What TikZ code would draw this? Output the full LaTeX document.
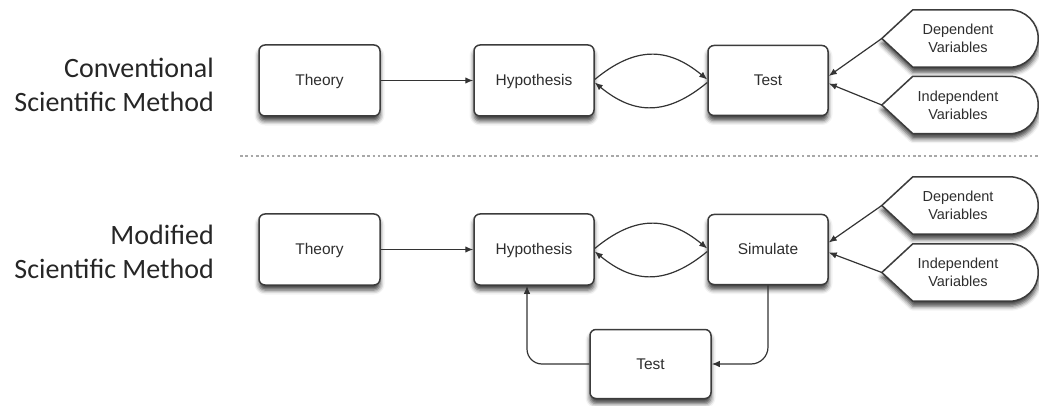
\documentclass[tikz,border=0pt]{standalone}
\usepackage{fontspec}
\setmainfont{Liberation Sans}
\newfontfamily\labelfont{Carlito}
\usetikzlibrary{arrows.meta,shadows.blur}

\definecolor{edgegray}{HTML}{3C3C3C}
\definecolor{linegray}{HTML}{333333}
\definecolor{textgray}{HTML}{2E2E2E}
\definecolor{dotgray}{HTML}{A8A8A8}

\tikzset{
  softshadow/.style={blur shadow={shadow xshift=0pt, shadow yshift=-5pt,
      shadow blur radius=4.5pt, shadow opacity=75}},
  stepbox/.style={draw=edgegray, line width=1.5pt, fill=white,
      rounded corners=6pt, minimum width=120pt, minimum height=70pt,
      inner sep=0pt, text height=10.5pt, text depth=0pt,
      font=\fontsize{15.5}{18}\selectfont, text=textgray, softshadow},
  varbox/.style={minimum width=156pt, minimum height=57pt, inner sep=0pt,
      align=center, font=\fontsize{14.5}{18}\selectfont, text=textgray},
  varline/.style={draw=edgegray, line width=1.5pt, fill=white, softshadow},
  flow/.style={draw=linegray, line width=1.2pt,
      -{Latex[length=8pt,width=6.5pt]}},
  methodlabel/.style={anchor=base east, inner sep=0pt, text=black!85,
      font=\labelfont\fontsize{28}{33}\selectfont},
}

% outline of an input shape: pointed on the left, rounded on the right
\newcommand{\varoutline}[1]{%
  \path[varline] (#1.west) -- ([xshift=31pt]#1.north west)
    [rounded corners=28.5pt] -- (#1.north east) -- (#1.south east)
    [sharp corners] -- ([xshift=31pt]#1.south west) -- cycle;}

\begin{document}
\begin{tikzpicture}[x=1pt, y=-1pt]
\useasboundingbox (0,0) rectangle (1039,406);

% ---------- conventional method ----------
\node[methodlabel] (convA) at (214,78) {Conventional};
\node[methodlabel] (convB) at (214,112) {Scientific Method};

\node[stepbox, minimum width=121pt, minimum height=71pt] (thA) at (319.5,80.5) {Theory};
\node[stepbox, minimum height=71pt] (hypA) at (534,80.5) {Hypothesis};
\node[stepbox] (tstA) at (768,80.5) {Test};

\node[varbox] (depA) at (960,38.5) {};
\node[varbox] (indA) at (960,105) {};
\varoutline{depA}
\varoutline{indA}
\node[varbox] at ([xshift=-2pt]depA.center) {Dependent\\Variables};
\node[varbox] at ([xshift=-2pt]indA.center) {Independent\\Variables};

\draw[flow] (thA.east) -- (hypA.west);
\draw[flow] ([yshift=1pt]hypA.east) .. controls +(40,-33) and +(-40,-33) .. ([yshift=1pt]tstA.west);
\draw[flow] ([yshift=-2pt]tstA.west) .. controls +(-40,33) and +(40,33) .. ([yshift=-2pt]hypA.east);
\draw[flow] (depA.west) -- ([yshift=4.5pt]tstA.east);
\draw[flow] (indA.west) -- ([yshift=-3pt]tstA.east);

% separator
\coordinate (sepL) at (240,156);
\coordinate (sepR) at (1039,156);
\draw[dotgray, line width=1.3pt, dash pattern=on 2.6pt off 2.7pt] (sepL) -- (sepR);

% ---------- modified method ----------
\node[methodlabel] (modA) at (214,245) {Modified};
\node[methodlabel] (modB) at (214,278) {Scientific Method};

\node[stepbox, minimum width=121pt, minimum height=71pt] (thB) at (319.5,249.5) {Theory};
\node[stepbox, minimum height=71pt] (hypB) at (534,249.5) {Hypothesis};
\node[stepbox] (simB) at (768,249.5) {Simulate};
\node[stepbox, minimum width=121pt, minimum height=69pt] (tstB) at (650.5,364) {Test};

\node[varbox] (depB) at (960,205.5) {};
\node[varbox] (indB) at (960,272.5) {};
\varoutline{depB}
\varoutline{indB}
\node[varbox] at ([xshift=-2pt]depB.center) {Dependent\\Variables};
\node[varbox] at ([xshift=-2pt]indB.center) {Independent\\Variables};

\draw[flow] (thB.east) -- (hypB.west);
\draw[flow] ([yshift=1pt]hypB.east) .. controls +(40,-33) and +(-40,-33) .. ([yshift=1pt]simB.west);
\draw[flow] ([yshift=-2pt]simB.west) .. controls +(-40,33) and +(40,33) .. ([yshift=-2pt]hypB.east);
\draw[flow] (depB.west) -- ([yshift=7pt]simB.east);
\draw[flow] (indB.west) -- ([yshift=-3pt]simB.east);

\draw[flow, rounded corners=17pt] (simB.south) |- (tstB.east);
\draw[flow, rounded corners=15pt] (tstB.west) -| ([xshift=-7pt]hypB.south);
\end{tikzpicture}
\end{document}
